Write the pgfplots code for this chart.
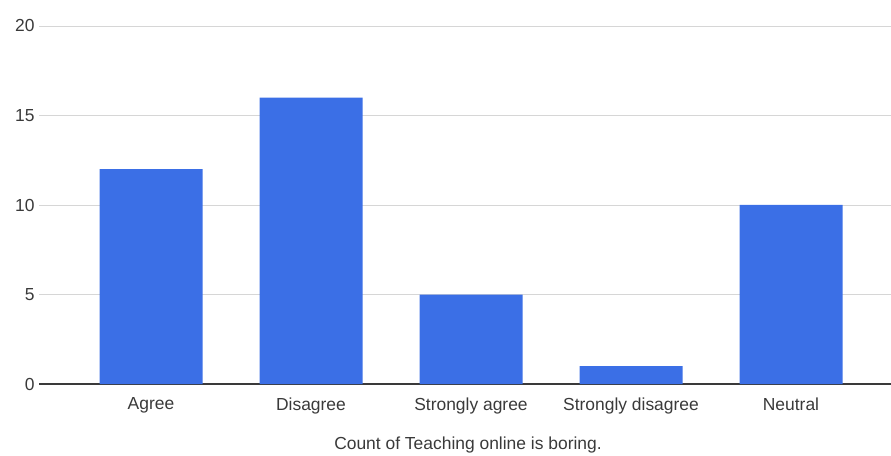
\documentclass[border=0pt]{standalone}
\usepackage{pgfplots}
\pgfplotsset{compat=1.18}
\usepackage{fontspec}
\setmainfont{Liberation Sans}
\definecolor{barblue}{HTML}{3B6FE6}
\definecolor{gridgray}{HTML}{D6D6D6}
\definecolor{txtgray}{HTML}{3A3A3A}
\begin{document}
\begin{tikzpicture}
\useasboundingbox (-39bp,-72bp) rectangle (852bp,384bp);
\begin{axis}[
  at={(0,0)}, anchor=south west,
  scale only axis,
  width=852bp, height=358bp,
  xmin=-0.7, xmax=4.625,
  ymin=0, ymax=20,
  ytick={5,10,15,20},
  extra y ticks={0},
  extra y tick style={grid style={draw=txtgray, line width=1.2bp}},
  xtick=data,
  xticklabels={Agree,Disagree,Strongly agree,Strongly disagree,Neutral},
  ymajorgrids,
  grid style={draw=gridgray, line width=0.8bp},
  axis line style={draw=none},
  major tick length=0pt,
  tick style={draw=none},
  /pgf/number format/assume math mode=true,
  ticklabel style={font=\fontsize{17.5}{20}\selectfont, text=txtgray},
  yticklabel style={xshift=-1bp},
  xticklabel style={yshift=-10bp},
  xlabel={Count of Teaching online is boring.},
  xlabel style={font=\fontsize{17.5}{20}\selectfont, text=txtgray, at={(0.5,0)}, anchor=center, yshift=-61bp, xshift=3bp},
  ybar, bar width=103bp,
]
\addplot[fill=barblue, draw=none] coordinates {(0,12) (1,16) (2,5) (3,1) (4,10)};
\end{axis}
\end{tikzpicture}
\end{document}
